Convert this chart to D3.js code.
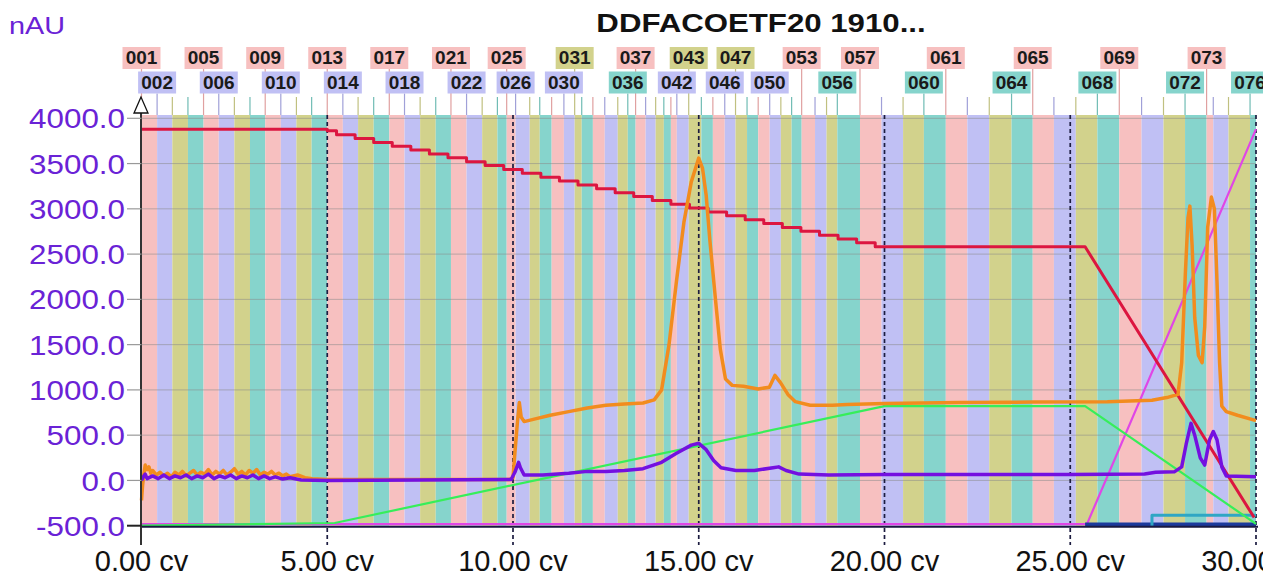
<!DOCTYPE html>
<html><head><meta charset="utf-8">
<script src="https://cdn.jsdelivr.net/npm/d3@7"></script>
<style>html,body{margin:0;padding:0;background:#fff;overflow:hidden}</style>
</head><body><svg id="c" width="1263" height="577"></svg>
<script>
// ---------- data ----------
const chartTitle = "DDFACOETF20 1910...";
const yUnit = "nAU";
const xTickValues = [0, 5, 10, 15, 20, 25, 30];
const yTickValues = [-500, 0, 500, 1000, 1500, 2000, 2500, 3000, 3500, 4000];

// fraction start volumes (cv), fraction 001..076
const fractionStarts = [0.00,0.42,0.83,1.25,1.67,2.08,2.50,2.92,3.33,3.75,4.17,4.58,5.00,5.42,5.83,6.25,6.67,7.08,7.50,7.92,8.33,8.75,9.17,9.58,
  9.83,10.07,10.45,10.72,11.04,11.37,11.66,11.85,12.15,12.47,12.82,13.09,13.30,13.57,13.84,14.06,14.25,14.41,14.73,
  15.07,15.38,15.70,15.99,16.30,16.60,16.91,17.21,17.50,17.77,18.13,18.44,18.73,19.34,19.92,20.50,21.06,21.65,22.23,22.82,
  23.42,23.99,24.56,25.15,25.73,26.32,26.92,27.51,28.09,28.67,28.85,29.26,29.84];
const fractionEnd = 30;
const topRowLabels = [1,5,9,13,17,21,25,31,37,43,47,53,57,61,65,69,73];
const bottomRowLabels = [2,6,10,14,18,22,26,30,36,42,46,50,56,60,64,68,72,76];

// UV trace (orange)
const uvOrange = [[0,-220],[0.03,-50],[0.06,60],[0.1,170],[0.15,120],[0.2,150],[0.25,80],[0.3,110],[0.4,60],[0.5,90],[0.6,50],[0.7,80],[0.8,40],[0.9,90],[1.0,60],[1.1,100],[1.2,50],[1.3,80],[1.4,110],[1.5,60],[1.6,90],[1.7,70],[1.8,120],[1.9,60],[2.0,100],[2.1,70],[2.2,110],[2.3,60],[2.4,90],[2.5,130],[2.6,70],[2.7,100],[2.8,60],[2.9,110],[3.0,80],[3.1,120],[3.2,60],[3.3,90],[3.4,70],[3.5,100],[3.6,60],[3.7,80],[3.8,50],[3.9,70],[4.0,40],[4.2,60],[4.4,30],[4.6,20],[5,10],
  [9.9,10],[10.0,30],[10.05,300],[10.12,650],[10.17,860],[10.22,700],[10.3,650],[10.6,680],[11.0,720],[11.5,760],[12.0,800],[12.5,830],[13.0,845],[13.5,855],[13.8,890],[14.0,1000],[14.2,1500],[14.4,2200],[14.6,2850],[14.8,3300],[15.0,3560],[15.1,3450],[15.2,3150],[15.3,2650],[15.45,2000],[15.58,1450],[15.72,1120],[15.9,1050],[16.2,1040],[16.6,1010],[16.9,1030],[17.05,1160],[17.2,1080],[17.4,950],[17.6,870],[18.0,830],[18.6,830],[19.0,840],[20,850],[22,860],[24,865],[26,870],[27.2,885],[27.6,915],[27.9,950],
  [28.0,1300],[28.1,2300],[28.17,2900],[28.22,3030],[28.28,2600],[28.35,1800],[28.45,1380],[28.55,1300],[28.62,1700],[28.7,2800],[28.8,3130],[28.88,3000],[28.95,2200],[29.02,1300],[29.08,820],[29.2,760],[29.5,720],[30,660]];

// UV trace (purple)
const uvPurple = [[0,0],[0.05,40],[0.1,70],[0.15,20],[0.3,50],[0.45,20],[0.6,60],[0.75,20],[0.9,50],[1.05,30],[1.2,60],[1.35,20],[1.5,50],[1.65,30],[1.8,70],[1.95,20],[2.1,50],[2.25,30],[2.4,60],[2.55,20],[2.7,50],[2.85,30],[3.0,60],[3.15,20],[3.3,50],[3.45,20],[3.6,40],[3.8,15],[4.0,30],[4.3,5],[5,0],
  [9.95,10],[10.05,90],[10.15,200],[10.2,140],[10.3,60],[10.8,60],[11.5,80],[12.0,100],[12.5,100],[13.0,110],[13.5,130],[14.0,200],[14.4,300],[14.8,390],[15.0,410],[15.2,340],[15.4,220],[15.6,140],[16.0,110],[16.5,110],[17.0,140],[17.15,150],[17.35,110],[17.7,70],[18.5,60],[20,65],[25,65],[27.0,70],[27.3,90],[27.8,95],
  [28.0,150],[28.12,400],[28.25,630],[28.35,500],[28.5,250],[28.62,170],[28.75,450],[28.85,540],[28.95,450],[29.08,150],[29.2,50],[30,40]];

// gradient (red): stepped segment then linear drop
const redSteps = [[0,3880],[5.0,3862],[5.25,3819],[5.75,3777],[6.25,3734],[6.75,3691],[7.25,3649],[7.75,3606],[8.25,3563],[8.75,3520],[9.25,3478],[9.75,3435],[10.25,3392],[10.75,3350],[11.25,3307],[11.75,3264],[12.25,3222],[12.75,3179],[13.25,3136],[13.75,3093],[14.25,3051],[14.75,3008],[15.25,2965],[15.75,2923],[16.25,2880],[16.75,2837],[17.25,2794],[17.75,2752],[18.25,2709],[18.75,2666],[19.25,2624],[19.75,2581]];
const redTail = [[25.4,2581],[29.95,-410]];

const greenLine = [[0,-500],[5.2,-470],[20.0,820],[25.4,820],[30,-480]];
const magentaLine = [[0,-482],[25.45,-482],[30,3880]];
const navyLine = [[25.4,-488],[30,-488]];
const tealLine = [[27.2,-500],[27.2,-385],[30,-385]];

// ---------- drawing ----------
const fracColors = ["#f7c0c0", "#c0c0f4", "#d2d28c", "#86d4cc"];
const tickColors = ["#e0a0a0", "#a0a0d8", "#c0c080", "#70bcb4"];
const svg = d3.select("#c");
const x = d3.scaleLinear().domain([0, 30]).range([141.5, 1256]);
const y = d3.scaleLinear().domain([-500, 4000]).range([525.7, 118.3]);
const plotTop = 115, plotBottom = y(-500);
const font = "Liberation Sans, Arial, sans-serif";

// bands
const bands = fractionStarts.map((s, i) => ({n: i + 1, s, e: i + 1 < fractionStarts.length ? fractionStarts[i + 1] : fractionEnd}));
svg.append("g").selectAll("rect").data(bands).join("rect")
  .attr("x", d => x(d.s)).attr("width", d => x(d.e) - x(d.s))
  .attr("y", plotTop).attr("height", plotBottom - plotTop)
  .attr("fill", d => fracColors[(d.n - 1) % 4]);

// fraction ticks
const labelH = 22, labelW = 38;
const topRowY = 47, botRowY = 71.5;
svg.append("g").selectAll("line").data(bands).join("line")
  .attr("x1", d => x(d.s)).attr("x2", d => x(d.s))
  .attr("y1", d => topRowLabels.includes(d.n) ? topRowY + labelH : (bottomRowLabels.includes(d.n) ? botRowY + labelH : 97))
  .attr("y2", plotTop)
  .attr("stroke", d => tickColors[(d.n - 1) % 4]).attr("stroke-width", 1.2);

// fraction labels
function drawLabels(list, y0) {
  const g = svg.append("g");
  list.forEach(n => {
    const cx = x(fractionStarts[n - 1]);
    g.append("rect").attr("x", cx - labelW / 2).attr("y", y0).attr("width", labelW).attr("height", labelH)
      .attr("fill", fracColors[(n - 1) % 4]);
    g.append("text").attr("x", cx).attr("y", y0 + 17).attr("text-anchor", "middle")
      .attr("font-family", font).attr("font-weight", "bold").attr("font-size", 19)
      .attr("fill", "#1a1a1a").text(String(n).padStart(3, "0"));
  });
}
drawLabels(topRowLabels, topRowY);
drawLabels(bottomRowLabels, botRowY);

// grid lines
svg.append("g").selectAll("line").data(yTickValues.filter(v => v > -500)).join("line")
  .attr("x1", x(0)).attr("x2", x(30)).attr("y1", d => y(d)).attr("y2", d => y(d))
  .attr("stroke", "#8a8a8a").attr("stroke-opacity", 0.55).attr("stroke-width", 1);

// dashed vertical lines
svg.append("g").selectAll("line").data(xTickValues.filter(v => v > 0)).join("line")
  .attr("x1", d => x(d)).attr("x2", d => x(d)).attr("y1", plotTop).attr("y2", 545)
  .attr("stroke", "#1c1c40").attr("stroke-width", 1.7).attr("stroke-dasharray", "4,3");

// series
const line = d3.line().x(d => x(d[0])).y(d => y(d[1]));
function path(data, color, w) {
  svg.append("path").attr("d", line(data)).attr("fill", "none").attr("stroke", color)
    .attr("stroke-width", w).attr("stroke-linejoin", "round");
}
const redPts = [redSteps[0]];
for (let i = 1; i < redSteps.length; i++) {
  redPts.push([redSteps[i][0], redSteps[i - 1][1]]);
  redPts.push(redSteps[i]);
}
redTail.forEach(p => redPts.push(p));

path(magentaLine, "#e046e6", 2.2);
path(navyLine, "#1c3a9c", 4);
path(tealLine, "#2fa6c4", 3);
path(greenLine, "#36ee5a", 2.2);
path(redPts, "#dc1640", 3);
path(uvOrange, "#f28c1e", 3.5);
path(uvPurple, "#7410e0", 3.5);

// axes
svg.append("line").attr("x1", x(0)).attr("x2", x(30) + 2).attr("y1", plotBottom + 1).attr("y2", plotBottom + 1)
  .attr("stroke", "#1a1a40").attr("stroke-width", 2);
svg.append("line").attr("x1", x(0) - 0.5).attr("x2", x(0) - 0.5).attr("y1", 112).attr("y2", 545)
  .attr("stroke", "#333").attr("stroke-width", 2);
svg.append("g").selectAll("line").data(yTickValues).join("line")
  .attr("x1", 127).attr("x2", x(0)).attr("y1", d => y(d)).attr("y2", d => y(d))
  .attr("stroke", d => d === -500 ? "#222" : "#999").attr("stroke-width", d => d === -500 ? 2 : 1.2);

// injection marker
svg.append("path").attr("d", `M${x(0) - 0.5},97 L${x(0) - 7.5},113 L${x(0) + 6.5},113 Z`)
  .attr("fill", "#fff").attr("stroke", "#111").attr("stroke-width", 1.3);

// y tick labels
svg.append("g").selectAll("text").data(yTickValues).join("text")
  .attr("transform", d => `translate(125,${y(d)}) scale(1.12,1)`)
  .attr("dy", "0.36em").attr("text-anchor", "end")
  .attr("font-family", font).attr("font-size", 28)
  .attr("fill", "#6a22d6").text(d => d.toFixed(1));

// x tick labels
svg.append("g").selectAll("text").data(xTickValues).join("text")
  .attr("x", d => x(d)).attr("y", 571).attr("text-anchor", "middle")
  .attr("font-family", font).attr("font-size", 29)
  .attr("fill", "#111").text(d => d.toFixed(2) + " cv");

// unit label & title
svg.append("text").attr("transform", "translate(9,34) scale(1.2,1)")
  .attr("font-family", font).attr("font-size", 24)
  .attr("fill", "#6a22d6").text(yUnit);
svg.append("text").attr("transform", "translate(761,32) scale(1.2,1)").attr("text-anchor", "middle")
  .attr("font-family", font).attr("font-weight", "bold").attr("font-size", 26)
  .attr("fill", "#111").text(chartTitle);
</script>
</body></html>
